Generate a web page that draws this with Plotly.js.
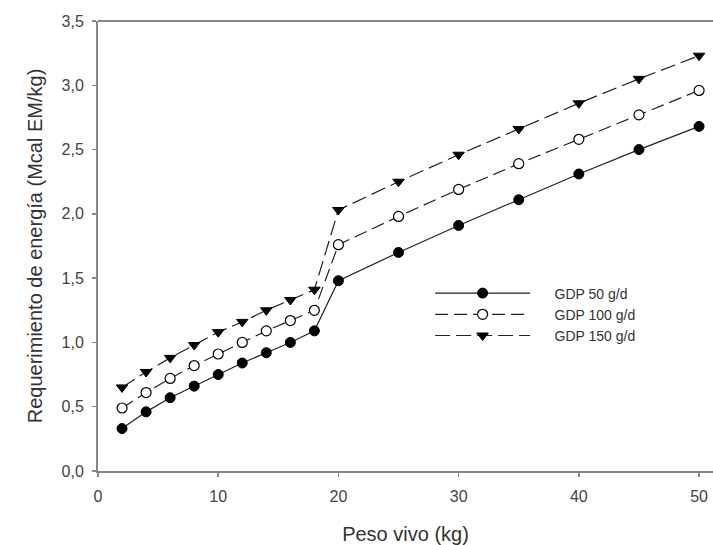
<!DOCTYPE html>
<html><head><meta charset="utf-8">
<script src="https://cdn.plot.ly/plotly-3.0.1.min.js"></script>
<style>body{margin:0;background:#fff}#c{width:713px;height:545px}</style>
</head><body><div id="c"></div>
<script>
var pesoVivo = [2,4,6,8,10,12,14,16,18,20,25,30,35,40,45,50];
var gdp50  = [0.33,0.46,0.57,0.66,0.75,0.84,0.92,1.00,1.09,1.48,1.70,1.91,2.11,2.31,2.50,2.68];
var gdp100 = [0.49,0.61,0.72,0.82,0.91,1.00,1.09,1.17,1.25,1.76,1.98,2.19,2.39,2.58,2.77,2.96];
var gdp150 = [0.65,0.77,0.88,0.98,1.08,1.16,1.25,1.33,1.41,2.03,2.25,2.46,2.66,2.86,3.05,3.23];
var seriesNames = ["GDP 50 g/d","GDP 100 g/d","GDP 150 g/d"];
var pad = "\u00a0\u00a0\u00a0\u00a0\u00a0";

var traces = [
 {x:pesoVivo,y:gdp50,name:pad+seriesNames[0],mode:"lines+markers",
  line:{color:"#222",width:1.2,dash:"solid"},
  marker:{symbol:"circle",size:10,color:"#000",line:{color:"#000",width:1}}},
 {x:pesoVivo,y:gdp100,name:pad+seriesNames[1],mode:"lines+markers",
  line:{color:"#222",width:1.2,dash:"13px,6px"},
  marker:{symbol:"circle",size:10,color:"#fff",line:{color:"#000",width:1.2}}},
 {x:pesoVivo,y:gdp150,name:pad+seriesNames[2],mode:"lines+markers",
  line:{color:"#222",width:1.2,dash:"15px,6px"},
  marker:{symbol:"triangle-down",size:10,color:"#000",line:{color:"#000",width:1}}}
];

var layout = {
 width:713,height:545,
 margin:{l:98,r:0,t:21,b:74},
 separators:",.",
 paper_bgcolor:"#fff",plot_bgcolor:"#fff",
 font:{family:"Liberation Sans, Arial, sans-serif",size:16,color:"#444"},
 showlegend:true,
 legend:{x:0.54,y:0.43,xanchor:"left",yanchor:"top",bgcolor:"rgba(0,0,0,0)",
   itemwidth:95,font:{size:14,color:"#333"},tracegroupgap:0},
 xaxis:{range:[0,51.16],showgrid:false,zeroline:false,showline:true,linecolor:"#888",linewidth:2,
   mirror:false,ticks:"outside",ticklen:4,tickcolor:"#888",tickwidth:1.5,dtick:10,tick0:0,
   ticklabelstandoff:6,
   tickfont:{size:16,color:"#444"},
   title:{text:"Peso vivo (kg)",font:{size:20,color:"#333"},standoff:24}},
 yaxis:{range:[0,3.5],showgrid:false,zeroline:false,showline:true,linecolor:"#888",linewidth:2,
   ticks:"outside",ticklen:4,tickcolor:"#888",tickwidth:1.5,dtick:0.5,tick0:0,tickformat:".1f",
   ticklabelstandoff:5,
   tickfont:{size:16,color:"#444"},
   title:{text:"Requerimiento de energía (Mcal EM/kg)",font:{size:20,color:"#333"},standoff:14}},
 shapes:[{type:"line",xref:"paper",yref:"paper",x0:0,x1:1,y0:1,y1:1,line:{color:"#888",width:2}}]
};
Plotly.newPlot("c",traces,layout,{staticPlot:true});
</script></body></html>
